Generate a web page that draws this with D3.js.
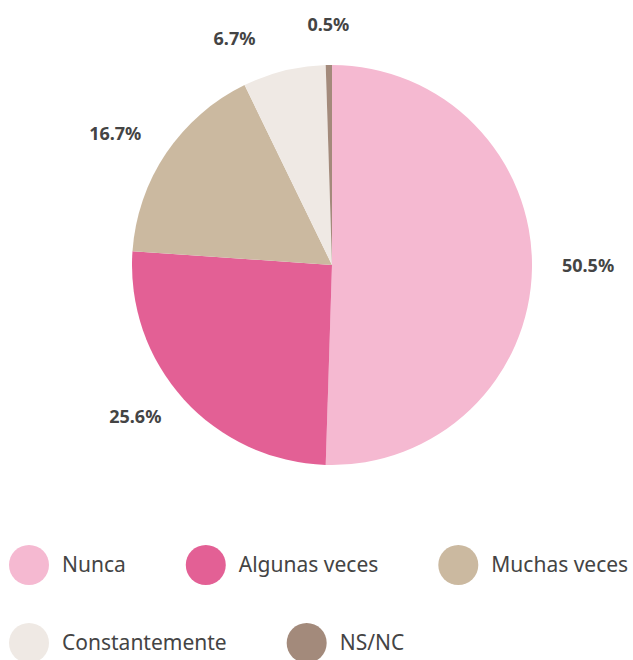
<!DOCTYPE html>
<html>
<head>
<meta charset="utf-8">
<script src="https://cdn.jsdelivr.net/npm/d3@7"></script>
<style>
  body { margin: 0; background: #fff; }
  .chart text { font-family: "Source Sans Pro", "Noto Sans", sans-serif; }
</style>
</head>
<body>
<div class="chart"></div>
<script>
// data
var categories = ["Nunca", "Algunas veces", "Muchas veces", "Constantemente", "NS/NC"];
var values = [50.5, 25.6, 16.7, 6.7, 0.5];
var colors = ["#f5b9d1", "#e36095", "#cbb9a0", "#efe9e4", "#a38a7b"];

// setup
var width = 633, height = 660;
var cx = 332, cy = 265, radius = 200, labelRadius = 230;

var svg = d3.select(".chart").append("svg")
    .attr("width", width)
    .attr("height", height);

var data = categories.map(function(c, i){ return {name: c, value: values[i], color: colors[i]}; });

var pie = d3.pie()
    .sort(null)
    .value(function(d){ return d.value; });

var arc = d3.arc().innerRadius(0).outerRadius(radius);
var labelArc = d3.arc().innerRadius(labelRadius).outerRadius(labelRadius);

var g = svg.append("g")
    .attr("transform", "translate(" + cx + "," + cy + ")");

var arcs = pie(data);

g.selectAll(".slice")
    .data(arcs)
  .enter().append("path")
    .attr("class", "slice")
    .attr("d", arc)
    .attr("fill", function(d){ return d.data.color; });

// percentage labels
function midAngle(d) { return (d.startAngle + d.endAngle) / 2; }
function isTop(d) { var m = midAngle(d); return m > Math.PI * 1.95 || m < 0.05; }

var labels = g.selectAll(".label")
    .data(arcs)
  .enter().append("text")
    .attr("class", "label")
    .attr("transform", function(d){
        var c = labelArc.centroid(d);
        if (isTop(d)) c[1] -= 8;
        return "translate(" + c + ")";
    })
    .attr("dy", "0.2em")
    .style("text-anchor", function(d){
        if (isTop(d)) return "middle";
        return midAngle(d) < Math.PI ? "start" : "end";
    })
    .style("font-size", "18px")
    .style("font-weight", "bold")
    .style("fill", "#444")
    .text(function(d){ return d.data.value.toFixed(1) + "%"; });

// keep labels near the top from crowding the centred one
var topLabel = labels.filter(isTop);
if (!topLabel.empty()) {
    var tb = topLabel.node().getBBox();
    var tx = labelArc.centroid(topLabel.datum())[0];
    labels.filter(function(d){ return !isTop(d) && Math.cos(midAngle(d)) > 0.9; })
        .attr("transform", function(d){
            var c = labelArc.centroid(d);
            var left = tx - tb.width / 2 - 52;
            if (c[0] > left) c[0] = left;
            return "translate(" + c + ")";
        });
}

// legend
var legend = svg.append("g").attr("class", "legend");
var lx = 9, ly = 565, rowH = 78, gap = 60, r = 20;
data.forEach(function(d){
    var item = legend.append("g");
    item.append("circle")
        .attr("cx", r).attr("cy", 0).attr("r", r)
        .attr("fill", d.color);
    var t = item.append("text")
        .attr("x", 2 * r + 13)
        .attr("dy", "0.35em")
        .style("font-size", "21px")
        .style("fill", "#444")
        .text(d.name);
    var w = 2 * r + 13 + t.node().getComputedTextLength();
    if (lx + w > width) { lx = 9; ly += rowH; }
    item.attr("transform", "translate(" + lx + "," + ly + ")");
    lx += w + gap;
});
</script>
</body>
</html>
